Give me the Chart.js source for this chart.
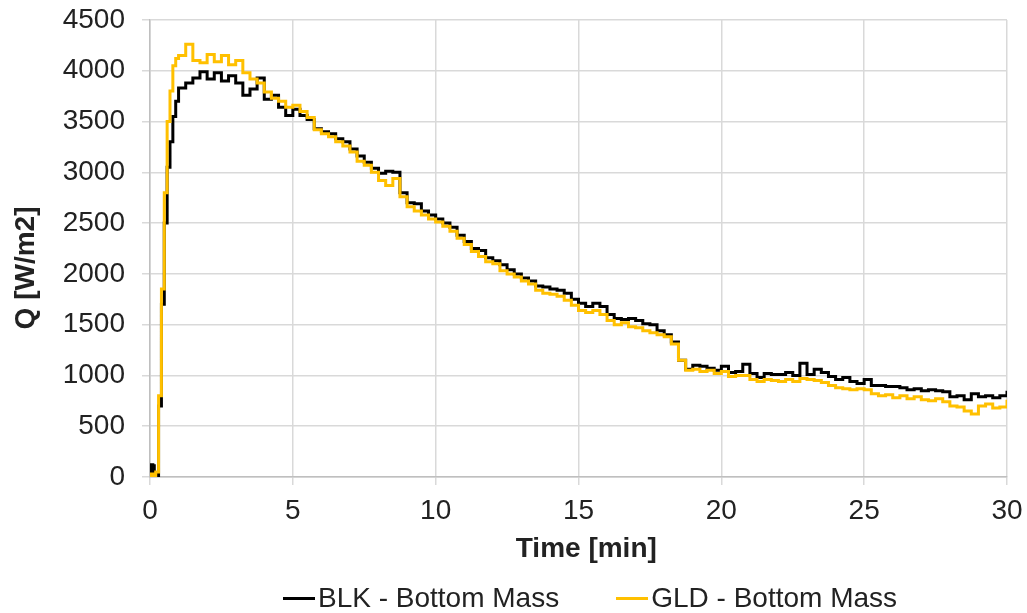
<!DOCTYPE html>
<html>
<head>
<meta charset="utf-8">
<script src="https://cdn.jsdelivr.net/npm/chart.js@4.4.0/dist/chart.umd.min.js"></script>
<style>
  html, body { margin: 0; padding: 0; background: #fff; }
  #wrap { position: relative; width: 1027px; height: 613px; }
  #legend { position: absolute; top: 581px; left: 283px; display: flex; gap: 57px;
            font: 28px "Liberation Sans", Arial, sans-serif; color: #222; line-height: 34px; }
  .item { display: flex; align-items: center; white-space: nowrap; }
  .swatch { display: inline-block; width: 32px; height: 3px; margin-right: 3px; }
</style>
</head>
<body>
<div id="wrap">
  <canvas id="chart" width="1027" height="613"></canvas>
  <div id="legend"></div>
</div>
<script>
// time in minutes (finer at the start where the flux shoots up)
const time = [0, 0.05, 0.1, 0.15, 0.2, 0.3, 0.4, 0.5, 0.6, 0.7, 0.8, 0.9,
  1, 1.25, 1.5, 1.75, 2, 2.25, 2.5, 2.75, 3, 3.25, 3.5, 3.75,
  4, 4.25, 4.5, 4.75, 5, 5.25, 5.5, 5.75, 6, 6.25, 6.5, 6.75,
  7, 7.25, 7.5, 7.75, 8, 8.25, 8.5, 8.75, 9, 9.25, 9.5, 9.75,
  10, 10.25, 10.5, 10.75, 11, 11.25, 11.5, 11.75, 12, 12.25, 12.5, 12.75,
  13, 13.25, 13.5, 13.75, 14, 14.25, 14.5, 14.75, 15, 15.25, 15.5, 15.75,
  16, 16.25, 16.5, 16.75, 17, 17.25, 17.5, 17.75, 18, 18.25, 18.5, 18.75,
  19, 19.25, 19.5, 19.75, 20, 20.25, 20.5, 20.75, 21, 21.25, 21.5, 21.75,
  22, 22.25, 22.5, 22.75, 23, 23.25, 23.5, 23.75, 24, 24.25, 24.5, 24.75,
  25, 25.25, 25.5, 25.75, 26, 26.25, 26.5, 26.75, 27, 27.25, 27.5, 27.75,
  28, 28.25, 28.5, 28.75, 29, 29.25, 29.5, 29.75, 30];

// Q [W/m2], BLK - Bottom Mass
const blk = [0, 120, 110, 20, 0, 700, 1700, 2500, 3050, 3300, 3550, 3700,
  3830, 3880, 3930, 3990, 3920, 3980, 3900, 3950, 3880, 3760, 3820, 3930,
  3720, 3760, 3640, 3560, 3620, 3560, 3520, 3430, 3400, 3380, 3330, 3300,
  3230, 3160, 3100, 3040, 2990, 3010, 3000, 2800, 2700, 2690, 2620, 2580,
  2540, 2500, 2460, 2380, 2320, 2250, 2230, 2160, 2130, 2090, 2040, 2000,
  1960, 1930, 1880, 1870, 1850, 1840, 1810, 1750, 1710, 1680, 1710, 1680,
  1600, 1560, 1550, 1560, 1540, 1510, 1500, 1440, 1400, 1330, 1150, 1060,
  1100, 1090, 1070, 1050, 1090, 1030, 1040, 1110, 1020, 980, 1020, 1010,
  1010, 1030, 1000, 1120, 1010, 1060, 1030, 990, 960, 980, 940, 920,
  960, 900, 900, 890, 890, 880, 860, 870, 850, 860, 850, 840,
  790, 800, 760, 820, 790, 800, 780, 800, 850];

// Q [W/m2], GLD - Bottom Mass
const gld = [0, 30, 0, 0, 50, 800, 1850, 2800, 3500, 3800, 4050, 4120,
  4150, 4260, 4100, 4080, 4160, 4090, 4150, 4060, 4100, 3980, 3920, 3880,
  3790, 3730, 3700, 3640, 3660, 3600, 3540, 3420, 3380, 3350, 3300, 3260,
  3200, 3110, 3070, 3000, 2920, 2870, 2940, 2760, 2660, 2620, 2580, 2540,
  2510, 2470, 2420, 2350, 2290, 2220, 2170, 2120, 2100, 2030, 2000, 1970,
  1930, 1900, 1840, 1810, 1800, 1780, 1740, 1690, 1640, 1620, 1640, 1600,
  1540, 1500, 1520, 1480, 1470, 1440, 1420, 1400, 1380, 1310, 1150, 1050,
  1060, 1040, 1050, 1020, 1040, 990, 1000, 1000, 960, 940, 960, 950,
  940, 960, 940, 970, 960, 950, 930, 900, 880, 870, 860, 870,
  860, 820, 800, 810, 780, 800, 770, 790, 760, 750, 770, 740,
  700, 690, 650, 620, 700, 720, 680, 690, 760];

const seriesNames = ['BLK - Bottom Mass', 'GLD - Bottom Mass'];
const seriesColors = ['#000000', '#FFC000'];
const xTicks = [0, 5, 10, 15, 20, 25, 30];
const yTicks = [0, 500, 1000, 1500, 2000, 2500, 3000, 3500, 4000, 4500];

const font = '"Liberation Sans", Arial, sans-serif';
const gridColor = '#d9d9d9';

function points(values) {
  return time.map((t, i) => ({ x: t, y: values[i] }));
}

const chart = new Chart(document.getElementById('chart'), {
  type: 'line',
  data: {
    datasets: [
      { label: seriesNames[0], data: points(blk), borderColor: seriesColors[0], backgroundColor: seriesColors[0],
        borderWidth: 3, pointRadius: 0, stepped: true, order: 1 },
      { label: seriesNames[1], data: points(gld), borderColor: seriesColors[1], backgroundColor: seriesColors[1],
        borderWidth: 3, pointRadius: 0, stepped: true, order: 0 }
    ]
  },
  options: {
    responsive: false,
    animation: false,
    layout: { padding: { top: 0, right: 0, bottom: 46, left: 0 } },
    plugins: { legend: { display: false }, tooltip: { enabled: false } },
    scales: {
      x: {
        type: 'linear', min: 0, max: 30,
        afterBuildTicks: s => { s.ticks = xTicks.map(v => ({ value: v })); },
        afterFit: s => { s.height = 90; s.paddingRight = 20; s.paddingLeft = 0; },
        grid: { color: gridColor, lineWidth: 1.5, tickLength: 8, tickColor: gridColor },
        border: { color: '#bfbfbf', width: 1.5 },
        ticks: { font: { family: font, size: 28 }, color: '#222', padding: 9, maxRotation: 0,
                 callback: v => String(v) },
        title: { display: true, text: '  Time [min]', font: { family: font, size: 28, weight: 'bold' },
                 color: '#222', padding: { top: 0, bottom: 1 } }
      },
      y: {
        min: 0, max: 4500,
        afterBuildTicks: s => { s.ticks = yTicks.map(v => ({ value: v })); },
        afterFit: s => { s.width = 150; s.paddingTop = 20; s.paddingBottom = 0; },
        grid: { color: gridColor, lineWidth: 1.5, tickLength: 8, tickColor: gridColor },
        border: { color: '#bfbfbf', width: 1.5 },
        ticks: { font: { family: font, size: 28 }, color: '#222', padding: 17,
                 callback: v => String(v) },
        title: { display: true, text: 'Q [W/m2]     ', font: { family: font, size: 28, weight: 'bold' },
                 color: '#222', padding: { top: 9, bottom: 0 } }
      }
    }
  }
});

// html legend from the chart's datasets
const legend = document.getElementById('legend');
chart.data.datasets.forEach(ds => {
  const item = document.createElement('div');
  item.className = 'item';
  const sw = document.createElement('span');
  sw.className = 'swatch';
  sw.style.background = ds.borderColor;
  item.appendChild(sw);
  item.appendChild(document.createTextNode(ds.label));
  legend.appendChild(item);
});
</script>
</body>
</html>
